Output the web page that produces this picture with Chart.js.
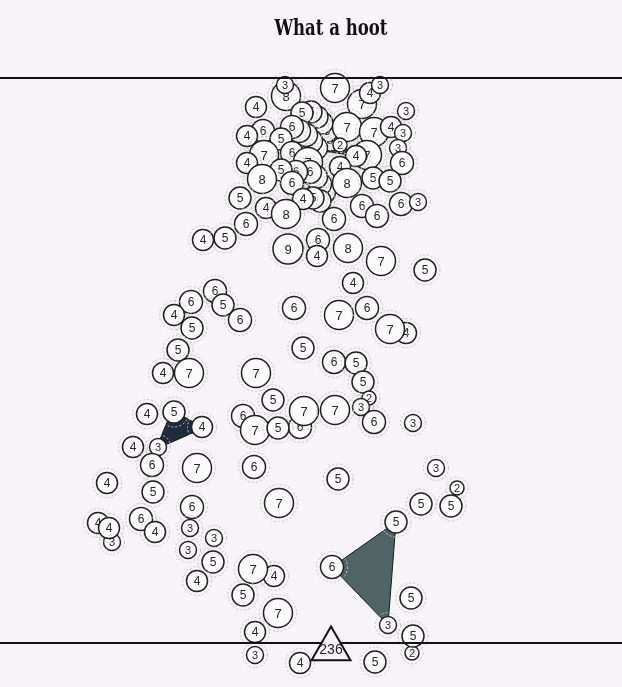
<!DOCTYPE html>
<html>
<head>
<meta charset="utf-8">
<script src="https://cdn.jsdelivr.net/npm/chart.js@4.4.0/dist/chart.umd.min.js"></script>
<style>
  html, body { margin: 0; padding: 0; background: #f6f4f6; }
  #wrap { width: 622px; height: 687px; position: relative; }
</style>
</head>
<body>
<div id="wrap"><canvas id="owls"></canvas></div>
<script>
// circles, in drawing order (later ones sit on top)
const circleX = [
  362, 286, 285, 335, 370, 380, 406, 256,
  330, 327, 322, 317, 311, 302,
  316, 311, 306, 299, 292,
  263, 247, 281,
  347, 374, 391, 403,
  367, 340, 356, 398, 402,
  264, 247,
  292, 308,
  324, 320, 316, 310, 296, 281, 292,
  340,
  262, 347, 373, 390,
  320, 313, 303,
  240, 266, 286,
  362, 377, 401, 418,
  334, 246,
  203, 225,
  318, 288, 317, 348,
  381, 425, 353,
  215, 191, 174, 192, 223, 240,
  294, 339, 367, 406, 390,
  178, 163, 189, 256, 303,
  334, 356, 363, 369, 361, 374, 413,
  273, 243, 255, 300, 278, 304, 335,
  147, 174, 202, 133, 158, 152, 197, 254,
  107, 153, 192, 279, 338,
  98, 112, 109, 141, 155,
  190, 214, 188, 213, 197,
  274, 253, 243, 278, 255, 255, 300,
  436, 457, 421, 451, 396, 332, 411, 388, 412, 413, 375
];
const circleY = [
  104, 96, 85, 88, 93, 85, 111, 107,
  140, 131, 123, 117, 112, 113,
  148, 141, 135, 131, 127,
  131, 136, 139,
  127, 132, 127, 133,
  155, 145, 156, 148, 163,
  155, 163,
  153, 162,
  192, 184, 177, 172, 172, 170, 183,
  167,
  179, 183, 178, 181,
  201, 198, 199,
  198, 208, 214,
  206, 216, 204, 202,
  219, 224,
  240, 238,
  240, 249, 256, 248,
  261, 270, 283,
  291, 302, 315, 328, 305, 320,
  308, 315, 308, 333, 329,
  350, 373, 373, 373, 348,
  362, 363, 382, 398, 407, 422, 423,
  400, 416, 430, 427, 428, 411, 410,
  414, 412, 427, 447, 447, 465, 468, 467,
  483, 492, 507, 503, 479,
  523, 542, 528, 519, 532,
  528, 538, 550, 562, 581,
  576, 569, 595, 613, 632, 655, 663,
  468, 488, 504, 506, 522, 567, 598, 625, 653, 636, 662
];
const circleValue = [
  7, 8, 3, 7, 4, 3, 3, 4,
  5, 5, 5, 5, 5, 5,
  6, 6, 6, 6, 6,
  6, 4, 5,
  7, 7, 4, 3,
  7, 2, 4, 3, 6,
  7, 4,
  6, 7,
  6, 6, 6, 6, 6, 5, 6,
  4,
  8, 8, 5, 5,
  5, 5, 4,
  5, 4, 8,
  6, 6, 6, 3,
  6, 6,
  4, 5,
  6, 9, 4, 8,
  7, 5, 4,
  6, 6, 4, 5, 5, 6,
  6, 7, 6, 4, 7,
  5, 4, 7, 7, 5,
  6, 5, 5, 2, 3, 6, 3,
  5, 6, 7, 6, 5, 7, 7,
  4, 5, 4, 4, 3, 6, 7, 6,
  4, 5, 6, 7, 5,
  4, 3, 4, 6, 4,
  3, 3, 3, 5, 4,
  4, 7, 5, 7, 4, 3, 4,
  3, 2, 5, 5, 5, 6, 5, 3, 2, 5, 5
];

// filled shapes joining some of the circles
const navyShapeX = [172, 204, 156, 172];
const navyShapeY = [410, 428, 449, 410];
const tealShapeX = [396, 332, 388, 396];
const tealShapeY = [522, 567, 625, 522];
const topShapeX = [322, 340, 357, 322];
const topShapeY = [151, 145, 156, 151];

// running total marker
const totalX = [331];
const totalY = [649];
const totalValue = [236];

const BG = '#f6f4f6';

function radiusFor(v) {
  const table = {2: 7, 3: 8.5, 4: 10.5, 5: 11, 6: 11.5, 7: 14.5, 8: 14.5, 9: 15};
  return table[v] || 11;
}

function shape(xs, ys, color) {
  return {
    type: 'line',
    kind: 'shape',
    data: xs.map((x, i) => ({x: x, y: ys[i]})),
    borderColor: '#1a1a1a',
    borderWidth: 1,
    backgroundColor: color,
    fill: 'shape',
    pointRadius: 0,
    tension: 0,
    order: 1000
  };
}

const datasets = [
  shape(navyShapeX, navyShapeY, '#1f2c3b'),
  shape(tealShapeX, tealShapeY, '#4e6465'),
  shape(topShapeX, topShapeY, '#3c5354')
];

circleX.forEach((x, i) => {
  datasets.push({
    type: 'bubble',
    kind: 'circle',
    value: circleValue[i],
    data: [{x: x, y: circleY[i], r: radiusFor(circleValue[i])}],
    backgroundColor: '#fafafa',
    borderColor: '#222',
    borderWidth: 1.5,
    order: -i
  });
});

datasets.push({
  type: 'scatter',
  kind: 'total',
  value: totalValue[0],
  data: [{x: totalX[0], y: totalY[0]}],
  pointStyle: 'triangle',
  pointRadius: 22.5,
  backgroundColor: BG,
  borderColor: '#111',
  borderWidth: 2,
  order: -10000
});

const owlPlugin = {
  id: 'owl',
  beforeDraw(chart) {
    const ctx = chart.ctx;
    const text = 'What a hoot';
    ctx.save();
    ctx.fillStyle = '#111';
    ctx.font = 'bold 22px "DejaVu Serif"';
    ctx.textAlign = 'center';
    ctx.textBaseline = 'middle';
    // squeeze the heavy slab face to the width of the original headline
    const w = ctx.measureText(text).width;
    ctx.translate(331, 29);
    ctx.scale(113 / w, 1);
    ctx.fillText(text, 0, 0);
    ctx.restore();
  },
  beforeDatasetDraw(chart, args) {
    const ds = chart.data.datasets[args.index];
    const ctx = chart.ctx;
    const el = args.meta.data[0];
    if (ds.kind === 'circle') {
      ctx.save();
      ctx.strokeStyle = '#c6c6c6';
      ctx.lineWidth = 1;
      ctx.setLineDash([2, 2]);
      ctx.beginPath();
      ctx.arc(el.x, el.y, el.options.radius + 4, 0, Math.PI * 2);
      ctx.stroke();
      ctx.restore();
    }
    if (ds.kind === 'total') {
      // the two rules sit over the circles but under the marker
      ctx.save();
      ctx.fillStyle = '#111';
      ctx.fillRect(0, 77, chart.width, 2);
      ctx.fillRect(0, 642, chart.width, 2);
      ctx.restore();
    }
  },
  afterDatasetDraw(chart, args) {
    const ds = chart.data.datasets[args.index];
    if (ds.kind !== 'circle' && ds.kind !== 'total') return;
    const ctx = chart.ctx;
    const el = args.meta.data[0];
    let size = 12;
    if (ds.kind === 'total') size = 14;
    else if (ds.value <= 3) size = 11;
    else if (ds.value >= 7) size = 13;
    ctx.save();
    ctx.fillStyle = '#262626';
    ctx.font = size + 'px "Liberation Sans"';
    ctx.textAlign = 'center';
    ctx.textBaseline = 'middle';
    ctx.fillText(String(ds.value), el.x, el.y + 1);
    ctx.restore();
  }
};

new Chart(document.getElementById('owls'), {
  type: 'bubble',
  data: {datasets: datasets},
  options: {
    responsive: true,
    maintainAspectRatio: false,
    animation: false,
    events: [],
    layout: {padding: 0, autoPadding: false},
    clip: false,
    scales: {
      x: {type: 'linear', min: 0, max: 622, display: false},
      y: {type: 'linear', min: 0, max: 687, reverse: true, display: false}
    },
    plugins: {
      legend: {display: false},
      tooltip: {enabled: false},
      title: {display: false}
    }
  },
  plugins: [owlPlugin]
});
</script>
</body>
</html>
